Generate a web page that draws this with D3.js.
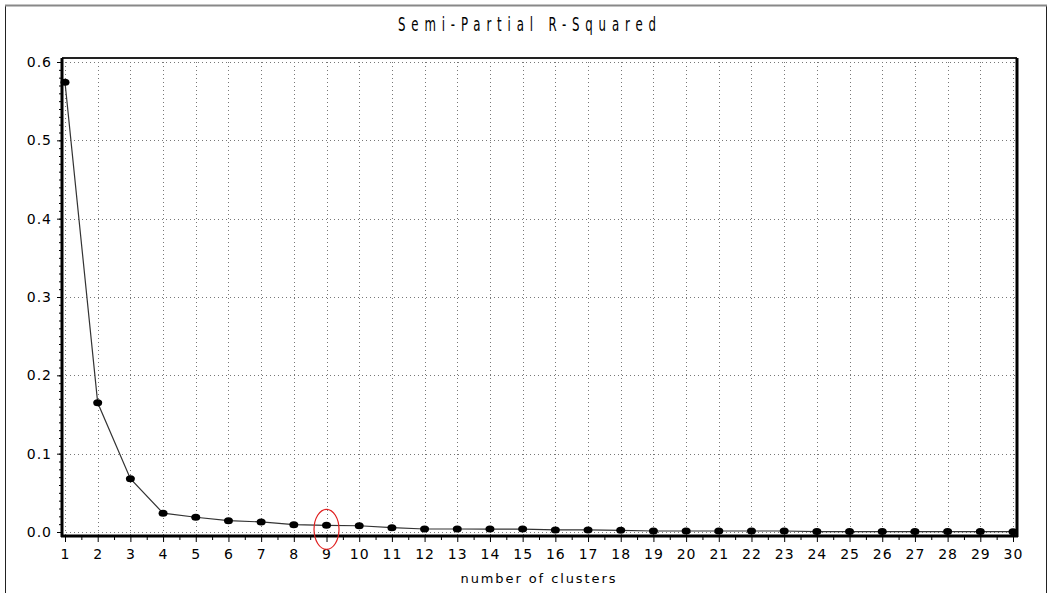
<!DOCTYPE html>
<html>
<head>
<meta charset="utf-8">
<script src="https://cdn.jsdelivr.net/npm/d3@7"></script>
<style>
  body { margin: 0; background: #fff; }
  text { font-family: "DejaVu Sans", sans-serif; fill: #000; }
</style>
</head>
<body>
<div id="chart"></div>
<script>
const svgWidth = 1049;
const svgHeight = 593;

// data
const clusters = d3.range(1, 31);
const sprsq = [0.574, 0.165, 0.068, 0.024, 0.0188, 0.0145, 0.0128, 0.0094, 0.0085, 0.008,
    0.0055, 0.0038, 0.0038, 0.0037, 0.0037, 0.0026, 0.0026, 0.0022, 0.0013, 0.0013,
    0.0013, 0.0013, 0.0013, 0.0006, 0.0006, 0.0006, 0.0006, 0.0005, 0.0005, 0.0004];
const yTicks = [0, 0.1, 0.2, 0.3, 0.4, 0.5, 0.6];
const highlighted = 9;

// frame of the plot area
const frame = { left: 62, right: 1017, top: 58, bottom: 536 };

var svg = d3.select("#chart")
    .append("svg")
    .attr("width", svgWidth)
    .attr("height", svgHeight);

// outer border
svg.append("rect")
    .attr("x", 5.5).attr("y", 5.5)
    .attr("width", 1041).attr("height", 600)
    .attr("fill", "none")
    .attr("stroke", "#222")
    .attr("stroke-width", 1);
svg.append("line")
    .attr("x1", 5).attr("x2", 1047).attr("y1", 5.5).attr("y2", 5.5)
    .attr("stroke", "#888").attr("stroke-width", 2);

var x = d3.scaleLinear().domain([1, 30]).range([65, 1013]);
var y = d3.scaleLinear().domain([0, 0.6]).range([532, 62]);

// gridlines
var grid = svg.append("g").attr("stroke", "#777").attr("stroke-dasharray", "1,3");
grid.selectAll("line.v")
    .data(clusters)
    .enter().append("line")
    .attr("x1", d => Math.round(x(d)) + 0.5).attr("x2", d => Math.round(x(d)) + 0.5)
    .attr("y1", frame.top).attr("y2", frame.bottom);
grid.selectAll("line.h")
    .data(yTicks)
    .enter().append("line")
    .attr("y1", d => Math.round(y(d)) + 0.5).attr("y2", d => Math.round(y(d)) + 0.5)
    .attr("x1", frame.left).attr("x2", frame.right);

// frame: thin top, thick left / right / bottom
svg.append("line")
    .attr("x1", frame.left).attr("x2", frame.right)
    .attr("y1", frame.top).attr("y2", frame.top)
    .attr("stroke", "#222").attr("stroke-width", 2);
svg.append("line")
    .attr("x1", frame.right).attr("x2", frame.right)
    .attr("y1", frame.top).attr("y2", frame.bottom + 1)
    .attr("stroke", "#000").attr("stroke-width", 3);

// y axis with minor ticks every 0.01
var yAxis = svg.append("g")
    .attr("transform", `translate(${frame.left}, 0)`)
    .call(d3.axisLeft(y).tickValues(d3.range(0, 0.6001, 0.01)).tickSize(3).tickFormat(""));
yAxis.select(".domain").remove();
svg.append("g")
    .attr("transform", `translate(${frame.left}, 0)`)
    .call(d3.axisLeft(y).tickValues(yTicks).tickSize(5).tickPadding(5).tickFormat(d3.format(".1f")))
    .call(g => g.select(".domain").remove())
    .selectAll("text")
    .style("font-size", "14px")
    .attr("letter-spacing", "1px");
svg.append("line")
    .attr("x1", frame.left).attr("x2", frame.left)
    .attr("y1", frame.top).attr("y2", frame.bottom + 1)
    .attr("stroke", "#000").attr("stroke-width", 3);

// x axis, minor ticks at the halves
svg.append("g")
    .attr("transform", `translate(0, ${frame.bottom})`)
    .call(d3.axisBottom(x).tickValues(d3.range(1.5, 30, 1)).tickSize(4).tickFormat(""))
    .call(g => g.select(".domain").remove());
svg.append("g")
    .attr("transform", `translate(0, ${frame.bottom})`)
    .call(d3.axisBottom(x).tickValues(clusters).tickSize(6).tickPadding(7).tickFormat(d3.format("d")))
    .call(g => g.select(".domain").remove())
    .selectAll("text")
    .style("font-size", "14px")
    .attr("letter-spacing", "1px");
svg.append("line")
    .attr("x1", frame.left - 1).attr("x2", frame.right + 1)
    .attr("y1", frame.bottom).attr("y2", frame.bottom)
    .attr("stroke", "#000").attr("stroke-width", 3);

// line and points
var pts = clusters.map((c, i) => [c, sprsq[i]]);
svg.append("path")
    .datum(pts)
    .attr("fill", "none")
    .attr("stroke", "#333")
    .attr("stroke-width", 1.2)
    .attr("d", d3.line().x(d => x(d[0])).y(d => y(d[1])));

svg.append("g").selectAll("ellipse")
    .data(pts)
    .enter().append("ellipse")
    .attr("cx", d => x(d[0]))
    .attr("cy", d => y(d[1]))
    .attr("rx", 4.5).attr("ry", 3.5)
    .attr("fill", "#000");

// red ring round the chosen cluster count
svg.append("ellipse")
    .attr("cx", x(highlighted))
    .attr("cy", y(sprsq[highlighted - 1]) + 4)
    .attr("rx", 12.5).attr("ry", 20)
    .attr("fill", "none")
    .attr("stroke", "#e02020")
    .attr("stroke-width", 1.2);

// titles (tall, narrow letters)
svg.append("text")
    .attr("transform", "translate(527, 31) scale(0.62, 1)")
    .attr("text-anchor", "middle")
    .attr("textLength", 416)
    .attr("lengthAdjust", "spacing")
    .style("font-size", "19px")
    .text("Semi-Partial R-Squared");

svg.append("text")
    .attr("x", 538).attr("y", 583)
    .attr("text-anchor", "middle")
    .attr("textLength", 155)
    .attr("lengthAdjust", "spacing")
    .style("font-size", "13px")
    .text("number of clusters");
</script>
</body>
</html>
